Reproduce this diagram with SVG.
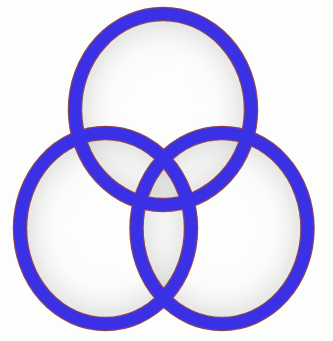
<svg xmlns="http://www.w3.org/2000/svg" width="333" height="341" viewBox="0 0 333 341">
<defs>
<radialGradient id="shade" cx="0.5" cy="0.5" r="0.5">
<stop offset="0.5" stop-color="#ffffff" stop-opacity="0"/>
<stop offset="0.85" stop-color="#d4d4d4" stop-opacity="0.35"/>
<stop offset="1" stop-color="#bcbcbc" stop-opacity="0.55"/>
</radialGradient>
<filter id="soft" x="-10%" y="-10%" width="120%" height="120%"><feGaussianBlur stdDeviation="5"/></filter>
</defs>
<style>
.shade{fill:url(#shade);stroke:none;filter:url(#soft)}
.edge{fill:none;stroke:#8a4660;stroke-width:14.5}
.band{fill:none;stroke:#3a30e6;stroke-width:12}
</style>
<rect width="333" height="341" fill="#fdfdfb"/>
<g id="shading">
<ellipse class="shade" cx="163" cy="109.5" rx="86" ry="93"/>
<ellipse class="shade" cx="105.5" cy="228.5" rx="83" ry="93"/>
<ellipse class="shade" cx="222" cy="228.5" rx="83" ry="93"/>
</g>
<g id="ring-top">
<ellipse class="edge" cx="163" cy="109.5" rx="88" ry="95.5"/>
</g>
<g id="ring-left">
<ellipse class="edge" cx="105.5" cy="228.5" rx="85.5" ry="95.5"/>
</g>
<g id="ring-right">
<ellipse class="edge" cx="222" cy="228.5" rx="85.5" ry="95.5"/>
</g>
<g id="bands">
<ellipse class="band" cx="163" cy="109.5" rx="88" ry="95.5"/>
<ellipse class="band" cx="105.5" cy="228.5" rx="85.5" ry="95.5"/>
<ellipse class="band" cx="222" cy="228.5" rx="85.5" ry="95.5"/>
</g>
</svg>
